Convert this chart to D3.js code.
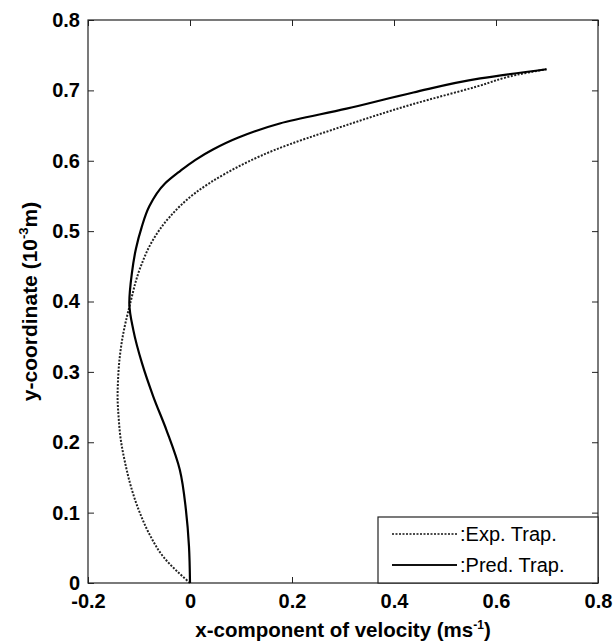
<!DOCTYPE html>
<html>
<head>
<meta charset="utf-8">
<script src="https://cdn.jsdelivr.net/npm/d3@7"></script>
<style>
  body { margin: 0; background: #fff; }
  text { font-family: "Liberation Sans", Arial, sans-serif; }
</style>
</head>
<body>
<div id="chart"></div>
<script>
// x-velocity (ms^-1) vs y-coordinate (10^-3 m)
var expX  = [0, -0.052, -0.08, -0.098, -0.115, -0.127, -0.136, -0.140, -0.142, -0.141, -0.139, -0.132, -0.118, -0.097, -0.073, -0.040, 0.010, 0.070, 0.165, 0.300, 0.435, 0.565, 0.640, 0.699];
var expY  = [0, 0.037, 0.07, 0.099, 0.135, 0.17, 0.205, 0.236, 0.265, 0.29, 0.312, 0.35, 0.395, 0.449, 0.487, 0.52, 0.554, 0.582, 0.615, 0.649, 0.68, 0.706, 0.722, 0.73];
var predX = [0, -0.002, -0.008, -0.02, -0.046, -0.072, -0.094, -0.111, -0.119, -0.114, -0.106, -0.095, -0.080, -0.050, -0.020, 0.010, 0.045, 0.095, 0.176, 0.307, 0.438, 0.569, 0.699];
var predY = [0, 0.052, 0.104, 0.161, 0.217, 0.265, 0.312, 0.359, 0.398, 0.44, 0.475, 0.505, 0.535, 0.567, 0.585, 0.601, 0.616, 0.633, 0.653, 0.674, 0.697, 0.717, 0.73];
var xTicks = [-0.2, 0, 0.2, 0.4, 0.6, 0.8];
var yTicks = [0, 0.1, 0.2, 0.3, 0.4, 0.5, 0.6, 0.7, 0.8];
var legendLabels = [":Exp. Trap.", ":Pred. Trap."];

var width = 616, height = 643;
var pLeft = 88, pRight = 598, pTop = 20, pBottom = 583;

var svg = d3.select("#chart").append("svg")
  .attr("width", width)
  .attr("height", height);

var x = d3.scaleLinear().domain([-0.2, 0.8]).range([pLeft, pRight]);
var y = d3.scaleLinear().domain([0, 0.8]).range([pBottom, pTop]);

function fmt(d) {
  if (d === 0) return "0";
  return d3.format(".1f")(d).replace("\u2212", "-");
}

// inward ticks on all four sides, matlab style
var tickLen = 6;
svg.append("g")
  .attr("transform", "translate(0," + pBottom + ")")
  .call(d3.axisBottom(x).tickValues(xTicks).tickSize(-tickLen).tickFormat(fmt))
  .call(function(g) { g.select(".domain").remove(); })
  .selectAll("text")
    .attr("y", 11)
    .attr("dy", "0.71em")
    .attr("font-size", 20)
    .attr("font-weight", "bold")
    .attr("fill", "#000");

svg.append("g")
  .attr("transform", "translate(0," + pTop + ")")
  .call(d3.axisTop(x).tickValues(xTicks).tickSize(-tickLen).tickFormat(""))
  .call(function(g) { g.select(".domain").remove(); });

svg.append("g")
  .attr("transform", "translate(" + pLeft + ",0)")
  .call(d3.axisLeft(y).tickValues(yTicks).tickSize(-tickLen).tickFormat(fmt))
  .call(function(g) { g.select(".domain").remove(); })
  .selectAll("text")
    .attr("x", -8)
    .attr("font-size", 20)
    .attr("font-weight", "bold")
    .attr("fill", "#000");

svg.append("g")
  .attr("transform", "translate(" + pRight + ",0)")
  .call(d3.axisRight(y).tickValues(yTicks).tickSize(-tickLen).tickFormat(""))
  .call(function(g) { g.select(".domain").remove(); });

svg.selectAll(".tick line").attr("stroke", "#222");

svg.append("rect")
  .attr("x", pLeft).attr("y", pTop)
  .attr("width", pRight - pLeft).attr("height", pBottom - pTop)
  .attr("fill", "none").attr("stroke", "#222").attr("stroke-width", 1.2);

// curves, y increases monotonically along each profile
var line = d3.line()
  .x(function(d) { return x(d[0]); })
  .y(function(d) { return y(d[1]); })
  .curve(d3.curveMonotoneY);

var expData = expX.map(function(v, i) { return [v, expY[i]]; });
var predData = predX.map(function(v, i) { return [v, predY[i]]; });

svg.append("path")
  .datum(expData)
  .attr("d", line)
  .attr("fill", "none")
  .attr("stroke", "#222")
  .attr("stroke-width", 2)
  .attr("stroke-dasharray", "2,1.5");

svg.append("path")
  .datum(predData)
  .attr("d", line)
  .attr("fill", "none")
  .attr("stroke", "#000")
  .attr("stroke-width", 2.2);

// legend
var lg = svg.append("g");
lg.append("rect")
  .attr("x", 378).attr("y", 517)
  .attr("width", pRight - 378).attr("height", pBottom - 517)
  .attr("fill", "#fff").attr("stroke", "#222").attr("stroke-width", 1.2);

var styles = [{dash: "2,1.5", w: 1.6}, {dash: null, w: 2.2}];
legendLabels.forEach(function(lbl, i) {
  var ly = 534 + i * 31;
  lg.append("line")
    .attr("x1", 392).attr("x2", 457)
    .attr("y1", ly).attr("y2", ly)
    .attr("stroke", "#111")
    .attr("stroke-width", styles[i].w)
    .attr("stroke-dasharray", styles[i].dash);
  lg.append("text")
    .attr("x", 460).attr("y", ly)
    .attr("dy", "0.36em")
    .attr("font-size", 20)
    .text(lbl);
});

// axis titles
var xt = svg.append("text")
  .attr("x", (pLeft + pRight) / 2)
  .attr("y", 637)
  .attr("text-anchor", "middle")
  .attr("font-size", 20.5)
  .attr("font-weight", "bold");
xt.append("tspan").text("x-component of velocity (ms");
xt.append("tspan").attr("font-size", 12).attr("dy", -8).text("-1");
xt.append("tspan").attr("dy", 8).text(")");

var yt = svg.append("text")
  .attr("transform", "translate(37," + ((pTop + pBottom) / 2) + ") rotate(-90)")
  .attr("text-anchor", "middle")
  .attr("font-size", 21)
  .attr("font-weight", "bold");
yt.append("tspan").text("y-coordinate (10");
yt.append("tspan").attr("font-size", 13).attr("dy", -9).text("-3");
yt.append("tspan").attr("dy", 9).text("m)");
</script>
</body>
</html>
